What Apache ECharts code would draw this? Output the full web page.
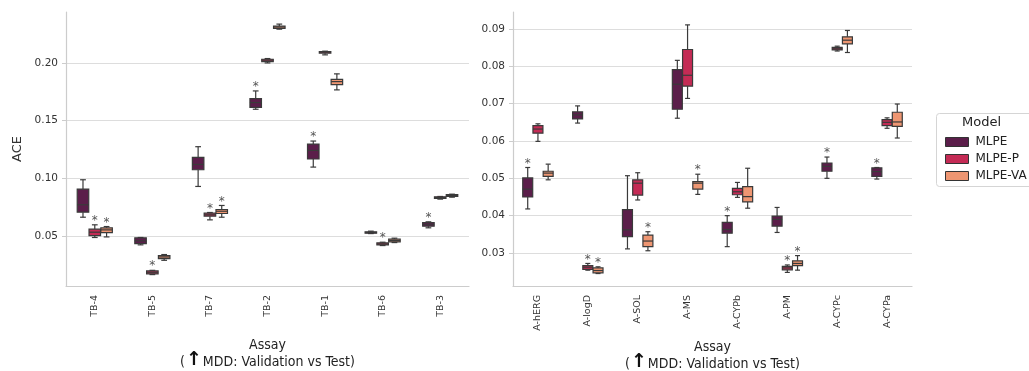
<!DOCTYPE html>
<html>
<head>
<meta charset="utf-8">
<script src="https://cdn.jsdelivr.net/npm/echarts@6/dist/echarts.min.js"></script>
<style>
html,body{margin:0;padding:0;background:#fff;}
#chart{width:1029px;height:371px;}
</style>
</head>
<body>
<div id="chart"></div>
<script>
// ---------------- DATA ----------------
const modelNames = ['MLPE', 'MLPE-P', 'MLPE-VA'];
const tbCategories = ['TB-4', 'TB-5', 'TB-7', 'TB-2', 'TB-1', 'TB-6', 'TB-3'];
const aCategories = ['A-hERG', 'A-logD', 'A-SOL', 'A-MS', 'A-CYPb', 'A-PM', 'A-CYPc', 'A-CYPa'];
const tbTicks = [0.05, 0.10, 0.15, 0.20];
const aTicks = [0.03, 0.04, 0.05, 0.06, 0.07, 0.08, 0.09];

// [min, q1, median, q3, max]
const tbMLPE = [
  [0.0662, 0.0706, 0.0770, 0.0906, 0.0987],
  [0.0422, 0.0433, 0.0457, 0.0483, 0.0486],
  [0.0929, 0.1074, 0.1120, 0.1181, 0.1274],
  [0.1599, 0.1616, 0.1657, 0.1691, 0.1758],
  [0.1097, 0.1167, 0.1242, 0.1297, 0.1323],
  [0.0520, 0.0523, 0.0529, 0.0535, 0.0541],
  [0.0570, 0.0584, 0.0601, 0.0616, 0.0622]
];
const tbMLPEP = [
  [0.0486, 0.0503, 0.0532, 0.0558, 0.0596],
  [0.0164, 0.0170, 0.0184, 0.0196, 0.0201],
  [0.0639, 0.0671, 0.0683, 0.0697, 0.0703],
  [0.2001, 0.2013, 0.2025, 0.2033, 0.2039],
  [0.2071, 0.2086, 0.2094, 0.2100, 0.2103],
  [0.0416, 0.0422, 0.0430, 0.0439, 0.0445],
  [0.0819, 0.0825, 0.0833, 0.0839, 0.0842]
];
const tbMLPEVA = [
  [0.0491, 0.0529, 0.0552, 0.0570, 0.0581],
  [0.0288, 0.0303, 0.0317, 0.0329, 0.0338],
  [0.0662, 0.0694, 0.0714, 0.0729, 0.0764],
  [0.2294, 0.2300, 0.2312, 0.2320, 0.2338],
  [0.1767, 0.1813, 0.1839, 0.1859, 0.1906],
  [0.0442, 0.0448, 0.0459, 0.0471, 0.0480],
  [0.0836, 0.0842, 0.0851, 0.0859, 0.0862]
];
const tbFlagMLPE   = [0, 0, 0, 1, 1, 0, 1];
const tbFlagMLPEP  = [1, 1, 1, 0, 0, 1, 0];
const tbFlagMLPEVA = [1, 0, 1, 0, 0, 0, 0];

const aMLPE = [
  [0.0418, 0.0450, 0.0471, 0.0501, 0.0529],
  [0.0648, 0.0659, 0.0670, 0.0678, 0.0694],
  [0.0311, 0.0344, 0.0362, 0.0416, 0.0507],
  [0.0661, 0.0685, 0.0752, 0.0791, 0.0816],
  [0.0317, 0.0353, 0.0363, 0.0382, 0.0400],
  [0.0355, 0.0372, 0.0390, 0.0399, 0.0422],
  [0.0500, 0.0519, 0.0532, 0.0541, 0.0557],
  [0.0498, 0.0505, 0.0518, 0.0528, 0.0529]
];
const aMLPEP = [
  [0.0599, 0.0621, 0.0632, 0.0641, 0.0646],
  [0.0254, 0.0256, 0.0262, 0.0266, 0.0272],
  [0.0442, 0.0455, 0.0487, 0.0496, 0.0515],
  [0.0714, 0.0747, 0.0776, 0.0845, 0.0911],
  [0.0449, 0.0456, 0.0464, 0.0473, 0.0489],
  [0.0248, 0.0255, 0.0260, 0.0264, 0.0268],
  [0.0841, 0.0844, 0.0847, 0.0851, 0.0854],
  [0.0634, 0.0641, 0.0650, 0.0657, 0.0662]
];
const aMLPEVA = [
  [0.0496, 0.0505, 0.0514, 0.0519, 0.0538],
  [0.0245, 0.0247, 0.0253, 0.0260, 0.0263],
  [0.0306, 0.0317, 0.0332, 0.0348, 0.0357],
  [0.0457, 0.0471, 0.0487, 0.0491, 0.0511],
  [0.0420, 0.0437, 0.0451, 0.0478, 0.0527],
  [0.0254, 0.0266, 0.0272, 0.0279, 0.0293],
  [0.0837, 0.0860, 0.0870, 0.0879, 0.0896],
  [0.0608, 0.0639, 0.0651, 0.0677, 0.0699]
];
const aFlagMLPE   = [1, 0, 0, 0, 1, 0, 1, 1];
const aFlagMLPEP  = [0, 1, 0, 0, 0, 1, 0, 0];
const aFlagMLPEVA = [0, 1, 1, 1, 0, 1, 0, 0];

// ---------------- STYLE ----------------
const colors = ['#5b1e4a', '#c42b55', '#ee9672'];
const edge = '#3a3a3a';
const offsets = [-0.205, 0, 0.205];
const boxFrac = 0.2;

function makeRender(k) {
  return function (params, api) {
    const c = api.value(0);
    const pMin = api.coord([c, api.value(1)]);
    const pQ1 = api.coord([c, api.value(2)]);
    const pMed = api.coord([c, api.value(3)]);
    const pQ3 = api.coord([c, api.value(4)]);
    const pMax = api.coord([c, api.value(5)]);
    const flag = api.value(6);
    const band = api.size([1, 0])[0];
    const cx = pMed[0] + offsets[k] * band;
    const bw = boxFrac * band;
    const cw = bw * 0.5;
    const ls = { stroke: edge, lineWidth: 1.2 };
    const children = [
      { type: 'line', shape: { x1: cx, y1: pMax[1], x2: cx, y2: pQ3[1] }, style: ls },
      { type: 'line', shape: { x1: cx, y1: pQ1[1], x2: cx, y2: pMin[1] }, style: ls },
      { type: 'line', shape: { x1: cx - cw / 2, y1: pMax[1], x2: cx + cw / 2, y2: pMax[1] }, style: ls },
      { type: 'line', shape: { x1: cx - cw / 2, y1: pMin[1], x2: cx + cw / 2, y2: pMin[1] }, style: ls },
      { type: 'rect', shape: { x: cx - bw / 2, y: pQ3[1], width: bw, height: Math.max(pQ1[1] - pQ3[1], 0.5) },
        style: { fill: colors[k], stroke: edge, lineWidth: 1.2 } },
      { type: 'line', shape: { x1: cx - bw / 2, y1: pMed[1], x2: cx + bw / 2, y2: pMed[1] }, style: ls }
    ];
    if (flag) {
      children.push({ type: 'text', style: { text: '*', x: cx, y: pMax[1] - 4, align: 'center', verticalAlign: 'middle',
        fill: '#555', fontSize: 12, fontFamily: 'DejaVu Sans' } });
    }
    return { type: 'group', children: children };
  };
}

function buildData(stats, flags) {
  return stats.map((s, i) => [i, s[0], s[1], s[2], s[3], s[4], flags[i]]);
}

function makeSeries(name, k, stats, flags, axisIdx) {
  return {
    type: 'custom', name: name, xAxisIndex: axisIdx, yAxisIndex: axisIdx,
    itemStyle: { color: colors[k] },
    encode: { x: 0, y: [1, 2, 3, 4, 5] },
    renderItem: makeRender(k),
    data: buildData(stats, flags),
    clip: false
  };
}

const axisLineStyle = { color: '#cccccc', width: 1.2 };
const nameRich = {
  p: { fontFamily: 'DejaVu Sans Condensed', fontSize: 14, color: '#222' },
  a: { fontFamily: 'DejaVu Sans', fontSize: 19, fontWeight: 'bold', color: '#111', padding: [0, 1, 4, 1] }
};
const xName = 'Assay\n{p|(}{a|↑}{p|MDD: Validation vs Test)}';

function xAxisCfg(cats, idx) {
  return {
    type: 'category', gridIndex: idx, data: cats,
    axisLine: { lineStyle: axisLineStyle }, axisTick: { show: false },
    axisLabel: { rotate: 90, margin: 9, fontSize: 9.5, color: '#333', fontFamily: 'DejaVu Sans' },
    splitLine: { show: false },
    name: xName, nameLocation: 'middle', nameGap: 51,
    nameTextStyle: { fontFamily: 'DejaVu Sans Condensed', fontSize: 14, color: '#222', lineHeight: 17, rich: nameRich }
  };
}
function yAxisCfg(min, max, ticks, idx, name) {
  return {
    type: 'value', gridIndex: idx, min: min, max: max,
    axisLine: { show: true, lineStyle: axisLineStyle },
    axisTick: { show: true, length: 4, lineStyle: { color: '#cccccc' }, customValues: ticks },
    axisLabel: { customValues: ticks, margin: 8, fontSize: 10.5, color: '#333', fontFamily: 'DejaVu Sans',
      formatter: v => v.toFixed(2) },
    splitLine: { show: true, lineStyle: { color: '#dddddd', width: 1.2 } },
    name: name, nameLocation: 'middle', nameGap: 42,
    nameTextStyle: { fontFamily: 'DejaVu Sans', fontSize: 13, color: '#333' }
  };
}

const chart = echarts.init(document.getElementById('chart'), null, { renderer: 'canvas' });
chart.setOption({
  animation: false,
  backgroundColor: '#ffffff',
  grid: [
    { left: 66, top: 12, width: 403, height: 274, outerBoundsMode: 'none', containLabel: false },
    { left: 513, top: 12, width: 399, height: 274, outerBoundsMode: 'none', containLabel: false }
  ],
  xAxis: [xAxisCfg(tbCategories, 0), xAxisCfg(aCategories, 1)],
  yAxis: [yAxisCfg(0.0065, 0.2443, tbTicks, 0, 'ACE'), yAxisCfg(0.02116, 0.09455, aTicks, 1, '')],
  legend: {
    data: modelNames, orient: 'vertical', left: 940, top: 131, icon: 'rect',
    itemWidth: 23, itemHeight: 9, itemGap: 5,
    itemStyle: { borderColor: '#333', borderWidth: 1 },
    textStyle: { fontSize: 12, color: '#222', fontFamily: 'DejaVu Sans', padding: [0, 0, 0, 2] },
    selectedMode: false
  },
  graphic: [
    { type: 'rect', left: 936, top: 113, shape: { width: 100, height: 73, r: 3 },
      style: { fill: '#fff', stroke: '#d5d5d5', lineWidth: 1 }, z: 0 },
    { type: 'text', left: 962, top: 116, style: { text: 'Model', fontSize: 13, fill: '#222', fontFamily: 'DejaVu Sans' }, z: 1 }
  ],
  series: [
    makeSeries('MLPE', 0, tbMLPE, tbFlagMLPE, 0),
    makeSeries('MLPE-P', 1, tbMLPEP, tbFlagMLPEP, 0),
    makeSeries('MLPE-VA', 2, tbMLPEVA, tbFlagMLPEVA, 0),
    makeSeries('MLPE', 0, aMLPE, aFlagMLPE, 1),
    makeSeries('MLPE-P', 1, aMLPEP, aFlagMLPEP, 1),
    makeSeries('MLPE-VA', 2, aMLPEVA, aFlagMLPEVA, 1)
  ]
});
</script>
</body>
</html>
